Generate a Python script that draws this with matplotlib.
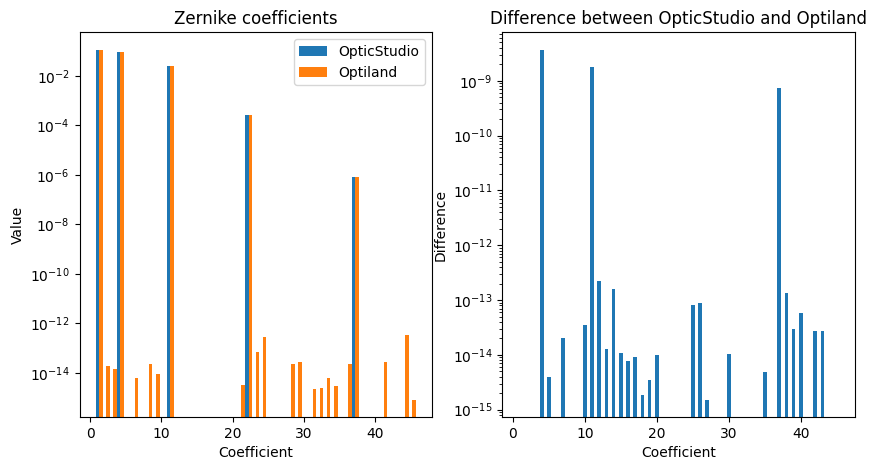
import numpy as np
from matplotlib import pyplot as plt

# Zernike coefficient index 1..45
coefficients = np.arange(1, 46)

# OpticStudio values (nonzero only at the spherical terms)
opticstudio_idx = [1, 4, 11, 22, 37]
opticstudio_val = [0.113, 0.095, 0.026, 2.64e-4, 8.5e-7]

# Optiland values
optiland_idx = [1, 2, 3, 4, 6, 8, 9, 11, 21, 22, 23, 24, 28, 29,
                31, 32, 33, 34, 36, 37, 41, 44, 45]
optiland_val = [0.113, 1.86e-14, 1.4e-14, 0.095, 6.0e-15, 2.3e-14, 9.1e-15,
                0.026, 3.2e-15, 2.64e-4, 6.8e-14, 2.85e-13, 2.3e-14, 2.7e-14,
                2.26e-15, 2.5e-15, 6.3e-15, 2.96e-15, 2.3e-14, 8.5e-7,
                2.7e-14, 3.5e-13, 8.2e-16]

# Absolute difference between the two
diff_idx = [4, 5, 7, 10, 11, 12, 13, 14, 15, 16, 17, 18, 19, 20,
            25, 26, 27, 30, 35, 37, 38, 39, 40, 42, 43]
diff_val = [3.67e-9, 3.98e-15, 2.06e-14, 3.55e-14, 1.8e-9, 2.25e-13, 1.29e-14,
            1.62e-13, 1.09e-14, 7.8e-15, 9.3e-15, 1.87e-15, 3.52e-15, 1.0e-14,
            8.2e-14, 8.9e-14, 1.52e-15, 1.05e-14, 4.93e-15, 7.45e-10, 1.36e-13,
            3.0e-14, 5.9e-14, 2.75e-14, 2.75e-14]


def full_array(idx, val):
    out = np.zeros(len(coefficients))
    for i, v in zip(idx, val):
        out[i - 1] = v
    return out


zs = full_array(opticstudio_idx, opticstudio_val)
ol = full_array(optiland_idx, optiland_val)
diff = full_array(diff_idx, diff_val)

width = 0.5
fig = plt.figure(figsize=(8.76, 4.70), dpi=100)
ax1 = fig.add_axes([0.0908, 0.1123, 0.4022, 0.8191])
ax2 = fig.add_axes([0.5734, 0.1123, 0.4022, 0.8191])

# Left: coefficients side by side
ax1.set_yscale("log")
ax1.bar(coefficients, zs, width, label="OpticStudio")
ax1.bar(coefficients + width, ol, width, label="Optiland")
ax1.set_title("Zernike coefficients")
ax1.set_xlabel("Coefficient")
ax1.set_ylabel("Value")
ax1.legend(loc="upper right")

# Right: difference
ax2.set_yscale("log")
ax2.bar(coefficients, diff, width)
ax2.set_title("Difference between OpticStudio and Optiland")
ax2.set_xlabel("Coefficient")
ax2.set_ylabel("Difference")

plt.savefig("out.png", dpi=100)
